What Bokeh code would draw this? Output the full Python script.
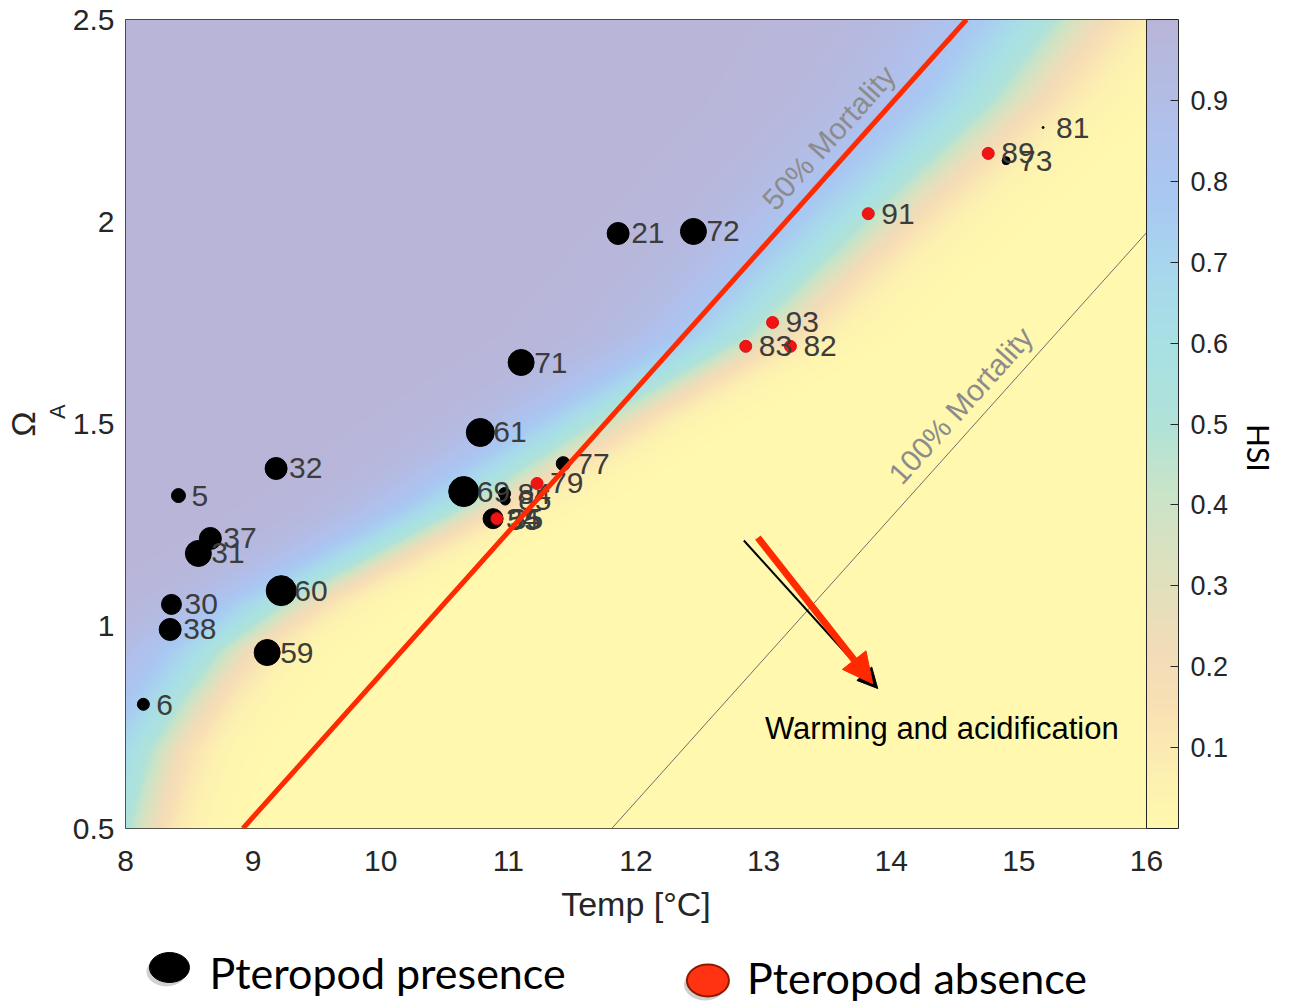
import math
import numpy as np
from bokeh.plotting import figure
from bokeh.models import (LinearColorMapper, ColorBar, FixedTicker, Label, Arrow,
                          NormalHead, ColumnDataSource, Range1d, LinearAxis)
from bokeh.layouts import column
from bokeh.embed import file_html
from bokeh.resources import INLINE
from bokeh.core.properties import value

# ---------------- data ----------------
pres_labels = ["6", "5", "37", "31", "32", "30", "38", "60", "59", "61", "69",
               "84", "85", "34", "55", "77", "71", "21", "72", "73", "81"]
pres_temp = [8.14, 8.415, 8.665, 8.571, 9.18, 8.36, 8.35, 9.22, 9.11, 10.78, 10.65,
             10.97, 10.975, 10.88, 10.89, 11.43, 11.10, 11.86, 12.45, 14.90, 15.19]
pres_omega = [0.807, 1.323, 1.217, 1.180, 1.390, 1.054, 0.992, 1.088, 0.935, 1.479, 1.333,
              1.328, 1.312, 1.266, 1.262, 1.402, 1.652, 1.971, 1.976, 2.151, 2.233]
pres_size = [12, 14, 22, 26, 22, 20, 22, 30, 26, 28, 30,
             12, 10, 20, 14, 14, 26, 22, 26, 8, 2]

abs_labels = ["79", "35", "91", "89", "93", "83", "82"]
abs_temp = [11.225, 10.91, 13.82, 14.76, 13.07, 12.86, 13.21]
abs_omega = [1.353, 1.266, 2.020, 2.169, 1.751, 1.692, 1.692]

mort50_temp = [8.92, 14.59]
mort50_omega = [0.5, 2.5]
mort100_temp = [11.81, 16.0]
mort100_omega = [0.5, 1.973]

# HSI field: temperature of the cyan (HSI~0.6) band at several Omega levels
hsi_omega = [0.50, 0.69, 0.82, 0.94, 1.06, 1.29, 1.52, 1.72, 2.03, 2.30, 2.50]
hsi_band_temp = [7.90, 8.05, 8.31, 8.59, 9.10, 10.45, 11.60, 12.70, 13.70, 14.60, 15.08]
hsi_width_omega = [0.5, 2.5]
hsi_width_high = [0.28, 0.48]   # spread on the high-HSI (cool) side
hsi_width_low = [0.18, 0.30]    # spread on the low-HSI (warm) side

x_ticks = [8, 9, 10, 11, 12, 13, 14, 15, 16]
y_ticks = [0.5, 1, 1.5, 2, 2.5]
cb_ticks = [0.1, 0.2, 0.3, 0.4, 0.5, 0.6, 0.7, 0.8, 0.9]
legend_labels = ["Pteropod presence", "Pteropod absence"]

# ---------------- colormap (pale colours) ----------------
cmap_pos = [0.0, 0.05, 0.15, 0.22, 0.30, 0.42, 0.50, 0.60, 0.68, 0.78, 0.87, 1.0]
cmap_hex = ["#fff8ae", "#fdf2b0", "#f8e0b4", "#f2dcb8", "#e2e0bc", "#c8e4c8",
            "#b0e2d8", "#a8e0e4", "#a8d8ec", "#a8c8f2", "#b0c0ec", "#b9b5d8"]
cmap_rgb = np.array([[int(h[i:i + 2], 16) for i in (1, 3, 5)] for h in cmap_hex], float)
palette = []
for i in range(256):
    f = i / 255.0
    c = [np.interp(f, cmap_pos, cmap_rgb[:, k]) for k in range(3)]
    palette.append("#%02x%02x%02x" % tuple(int(round(v)) for v in c))
mapper = LinearColorMapper(palette=palette, low=0, high=1)

# HSI grid
tt = np.linspace(8, 16, 500)
oo = np.linspace(0.5, 2.5, 500)
T, O = np.meshgrid(tt, oo)
s_hi = np.interp(O, hsi_width_omega, hsi_width_high)
s_lo = np.interp(O, hsi_width_omega, hsi_width_low)
tc = np.interp(O, hsi_omega, hsi_band_temp) + 0.405 * s_hi
s = np.where(T < tc, s_hi, s_lo)
H = 1.0 / (1.0 + np.exp((T - tc) / s))

# ---------------- main figure ----------------
FONT = "Liberation Sans"
p = figure(width=1299, height=940, x_range=Range1d(8, 16), y_range=Range1d(0.5, 2.5),
           output_backend="svg", toolbar_location=None,
           min_border_left=124, min_border_right=153, min_border_top=19, min_border_bottom=112)
p.grid.visible = False
p.outline_line_color = "#262626"
p.outline_line_width = 1
p.background_fill_color = "white"

p.image(image=[H], x=8, y=0.5, dw=8, dh=2, color_mapper=mapper)

for ax in (p.xaxis, p.yaxis):
    ax.axis_line_color = None
    ax.major_tick_line_color = None
    ax.minor_tick_line_color = None
    ax.major_tick_out = 0
    ax.major_tick_in = 0
    ax.minor_tick_out = 0
    ax.minor_tick_in = 0
    ax.major_label_text_font = FONT
    ax.major_label_text_font_size = "30px"
    ax.major_label_text_color = "#262626"
p.xaxis.ticker = FixedTicker(ticks=x_ticks)
p.yaxis.ticker = FixedTicker(ticks=y_ticks)
p.yaxis.major_label_overrides = {0.5: "0.5", 1.0: "1", 1.5: "1.5", 2.0: "2", 2.5: "2.5"}
p.xaxis.major_label_standoff = 22
p.yaxis.major_label_standoff = 11

p.xaxis.axis_label = "Temp [°C]"
p.xaxis.axis_label_text_font = FONT
p.xaxis.axis_label_text_font_size = "34px"
p.xaxis.axis_label_text_font_style = "normal"
p.xaxis.axis_label_text_color = "#262626"
p.xaxis.axis_label_standoff = 11

# y label: Omega with subscript A (two stacked left axes)
p.yaxis.axis_label = "\u00a0\u00a0\u00a0\u00a0A"
p.yaxis.axis_label_text_font = FONT
p.yaxis.axis_label_text_font_size = "22px"
p.yaxis.axis_label_text_font_style = "normal"
p.yaxis.axis_label_text_color = "#262626"
p.yaxis.axis_label_standoff = 0

om_axis = LinearAxis(ticker=FixedTicker(ticks=[]), axis_label="Ω",
                     axis_line_color=None, major_tick_line_color=None,
                     minor_tick_line_color=None, major_tick_out=0, major_tick_in=0,
                     minor_tick_out=0, minor_tick_in=0, major_label_standoff=0,
                     axis_label_standoff=0, axis_label_text_font=FONT,
                     axis_label_text_font_size="34px", axis_label_text_font_style="normal",
                     axis_label_text_color="#262626")
p.add_layout(om_axis, "left")

# 100% mortality line
p.line(mort100_temp, mort100_omega, line_color="#6e6e6e", line_width=1)

# points
psrc = ColumnDataSource(dict(t=pres_temp, o=pres_omega, s=pres_size,
                             lab=[(" " + l if len(l) == 1 else l) for l in pres_labels]))
asrc = ColumnDataSource(dict(t=abs_temp, o=abs_omega, lab=abs_labels))
p.scatter("t", "o", size="s", source=psrc, fill_color="black", line_color="black")
p.scatter("t", "o", size=12, source=asrc, fill_color="#f01414", line_color="#e01010")
for src in (psrc, asrc):
    p.text("t", "o", text="lab", source=src, x_offset=13, text_baseline="middle",
           text_font=value(FONT), text_font_size="30px", text_color="#3c3c3c")

# 50% mortality line
p.line(mort50_temp, mort50_omega, line_color="#ff2a00", line_width=5)

# texts
p.add_layout(Label(x=13.511, y=2.208, text="50% Mortality", angle=48, angle_units="deg",
                   text_align="center", text_baseline="middle", text_font=FONT,
                   text_font_size="30px", text_color="#8c8c8c"))
p.add_layout(Label(x=14.544, y=1.546, text="100% Mortality", angle=48, angle_units="deg",
                   text_align="center", text_baseline="middle", text_font=FONT,
                   text_font_size="30px", text_color="#8c8c8c"))
p.add_layout(Label(x=13.01, y=0.747, text="Warming and acidification", text_align="left",
                   text_baseline="middle", text_font=FONT, text_font_size="31px",
                   text_color="black"))

# arrows
p.add_layout(Arrow(end=NormalHead(size=20, fill_color="black", line_color="black"),
                   x_start=12.845, y_start=1.212, x_end=13.894, y_end=0.846,
                   line_color="black", line_width=2))
p.add_layout(Arrow(end=NormalHead(size=30, fill_color="#ff2a00", line_color="#ff2a00"),
                   x_start=12.955, y_start=1.219, x_end=13.855, y_end=0.858,
                   line_color="#ff2a00", line_width=7))

# colorbar
cb = ColorBar(color_mapper=mapper, ticker=FixedTicker(ticks=cb_ticks), width=32,
              padding=0, margin=0, location="top_left",
              bar_line_color="#262626", bar_line_width=1,
              major_label_text_font=FONT, major_label_text_font_size="27px",
              major_label_text_color="#262626", label_standoff=12,
              major_tick_in=8, major_tick_out=0, major_tick_line_color="#262626",
              minor_tick_line_color=None,
              border_line_color=None, background_fill_alpha=0)
p.add_layout(cb, "right")

hsi_axis = LinearAxis(ticker=FixedTicker(ticks=[]), axis_label="HSI",
                      axis_line_color=None, major_tick_line_color=None,
                      minor_tick_line_color=None, major_tick_out=0, major_tick_in=0,
                      minor_tick_out=0, minor_tick_in=0, major_label_standoff=0,
                      axis_label_standoff=27, axis_label_text_font="Lato",
                      axis_label_text_font_size="30px", axis_label_text_font_style="normal",
                      axis_label_text_color="black")
if "axis_label_orientation" in hsi_axis.properties():
    hsi_axis.axis_label_orientation = -math.pi / 2
p.add_layout(hsi_axis, "right")

# ---------------- legend strip ----------------
p2 = figure(width=1299, height=62, x_range=Range1d(124, 1146), y_range=Range1d(1002, 940),
            output_backend="svg", toolbar_location=None,
            min_border_left=124, min_border_right=153, min_border_top=0, min_border_bottom=0,
            x_axis_location=None, y_axis_location=None)
p2.grid.visible = False
p2.outline_line_color = None
p2.ellipse(x=[165, 704], y=[971, 984], width=[40, 42], height=[30, 32],
           fill_color="#777777", fill_alpha=0.35, line_color=None)
p2.ellipse(x=[168], y=[967], width=[40], height=[30], fill_color="black", line_color="black")
p2.ellipse(x=[707], y=[980], width=[42], height=[32], fill_color="#ff3311",
           line_color="#8b1a00", line_width=2)
p2.text(x=[208, 746], y=[972, 977], text=legend_labels, text_baseline="middle",
        text_font=value("Lato"), text_font_size="43px", text_color="black")

layout = column(p, p2, spacing=0)
open("out.html", "w").write(file_html(layout, INLINE))
